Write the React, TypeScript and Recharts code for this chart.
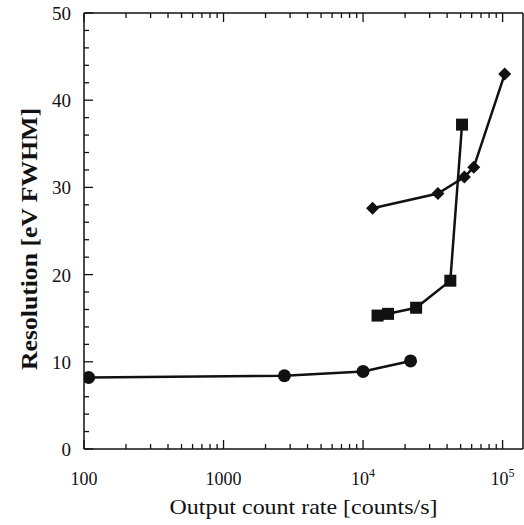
import React from "react";
import { LineChart, Line, XAxis, YAxis } from "recharts";

// x: output count rate [counts/s], y: resolution [eV FWHM]
const circleRate = [108, 2730, 10000, 21900];
const circleRes = [8.2, 8.4, 8.9, 10.1];

const squareRate = [12700, 15100, 24000, 42200, 51200];
const squareRes = [15.3, 15.5, 16.2, 19.3, 37.2];

const diamondRate = [11700, 34400, 53200, 62100, 103500];
const diamondRes = [27.6, 29.3, 31.2, 32.3, 43.0];

const X_TICKS = [
  100, 200, 300, 400, 500, 600, 700, 800, 900,
  1000, 2000, 3000, 4000, 5000, 6000, 7000, 8000, 9000,
  10000, 20000, 30000, 40000, 50000, 60000, 70000, 80000, 90000,
  100000,
];
const X_MAJOR = [100, 1000, 10000, 100000];
const X_LABELS = [["100", ""], ["1000", ""], ["10", "4"], ["10", "5"]];

const Y_TICKS = [0, 2, 4, 6, 8, 10, 12, 14, 16, 18, 20, 22, 24, 26, 28, 30, 32, 34, 36, 38, 40, 42, 44, 46, 48, 50];
const Y_MAJOR = [0, 10, 20, 30, 40, 50];

const toPoints = (xs: number[], ys: number[]) => xs.map((x, i) => ({ x, y: ys[i] }));
const circles = toPoints(circleRate, circleRes);
const squares = toPoints(squareRate, squareRes);
const diamonds = toPoints(diamondRate, diamondRes);

const FONT = "'Liberation Serif', 'Times New Roman', serif";
const INK = "#111";

const BottomTick = ({ x, y, payload }: any) => {
  const idx = X_MAJOR.indexOf(payload.value);
  const major = idx >= 0;
  return (
    <g>
      <line x1={x} x2={x} y1={y} y2={y - (major ? 9 : 5)} stroke={INK} strokeWidth={1.3} />
      {major && (
        <text x={x} y={y + 36} textAnchor="middle" fontFamily={FONT} fontSize={18} fill={INK}>
          {X_LABELS[idx][0]}
          {X_LABELS[idx][1] && (
            <tspan dy={-8} fontSize={12}>
              {X_LABELS[idx][1]}
            </tspan>
          )}
        </text>
      )}
    </g>
  );
};

const TopTick = ({ x, y, payload }: any) => {
  const major = X_MAJOR.includes(payload.value);
  return <line x1={x} x2={x} y1={y} y2={y + (major ? 9 : 5)} stroke={INK} strokeWidth={1.3} />;
};

const LeftTick = ({ x, y, payload }: any) => {
  const major = Y_MAJOR.includes(payload.value);
  return (
    <g>
      <line x1={x} x2={x + (major ? 9 : 5)} y1={y} y2={y} stroke={INK} strokeWidth={1.3} />
      {major && (
        <text x={x - 13} y={y + 7} textAnchor="end" fontFamily={FONT} fontSize={19} fill={INK}>
          {payload.value}
        </text>
      )}
    </g>
  );
};

const RightTick = ({ x, y, payload }: any) => {
  const major = Y_MAJOR.includes(payload.value);
  return <line x1={x} x2={x - (major ? 9 : 5)} y1={y} y2={y} stroke={INK} strokeWidth={1.3} />;
};

const CircleDot = ({ cx, cy, index }: any) => <circle key={index} cx={cx} cy={cy} r={6.5} fill={INK} />;
const SquareDot = ({ cx, cy, index }: any) => (
  <rect key={index} x={cx - 6} y={cy - 6} width={12} height={12} fill={INK} />
);
const DiamondDot = ({ cx, cy, index }: any) => (
  <polygon key={index} points={`${cx},${cy - 6.5} ${cx + 6.5},${cy} ${cx},${cy + 6.5} ${cx - 6.5},${cy}`} fill={INK} />
);

export default function App() {
  const xDomain = [100, 140000];
  return (
    <div style={{ position: "absolute", left: 0, top: 0 }}>
      <LineChart width={524} height={525} margin={{ top: 12, right: 0, bottom: 0, left: 0 }}>
        <XAxis
          xAxisId="b"
          dataKey="x"
          type="number"
          scale="log"
          domain={xDomain}
          allowDataOverflow
          ticks={X_TICKS}
          interval={0}
          height={76}
          tickSize={0}
          tickMargin={0}
          tick={<BottomTick />}
          axisLine={{ stroke: INK, strokeWidth: 1.5 }}
          label={(p: any) => {
            const vb = p.viewBox;
            return (
              <text
                x={vb.x + vb.width / 2}
                y={vb.y + 65}
                textAnchor="middle"
                fontFamily={FONT}
                fontSize={21}
                textLength={268}
                lengthAdjust="spacingAndGlyphs"
                fill={INK}
              >
                Output count rate [counts/s]
              </text>
            );
          }}
        />
        <XAxis
          xAxisId="t"
          orientation="top"
          dataKey="x"
          type="number"
          scale="log"
          domain={xDomain}
          allowDataOverflow
          ticks={X_TICKS}
          interval={0}
          height={1}
          tickSize={0}
          tickMargin={0}
          tick={<TopTick />}
          axisLine={{ stroke: INK, strokeWidth: 1.5 }}
        />
        <YAxis
          yAxisId="l"
          type="number"
          domain={[0, 50]}
          ticks={Y_TICKS}
          interval={0}
          width={84}
          tickSize={0}
          tickMargin={0}
          tick={<LeftTick />}
          axisLine={{ stroke: INK, strokeWidth: 1.5 }}
          label={(p: any) => {
            const vb = p.viewBox;
            const cx = vb.x + 37;
            const cy = vb.y + vb.height / 2 + 8;
            return (
              <text
                x={cx}
                y={cy}
                transform={`rotate(-90 ${cx} ${cy})`}
                textAnchor="middle"
                fontFamily={FONT}
                fontWeight="bold"
                fontSize={23}
                textLength={262}
                lengthAdjust="spacingAndGlyphs"
                fill={INK}
              >
                Resolution [eV FWHM]
              </text>
            );
          }}
        />
        <YAxis
          yAxisId="r"
          orientation="right"
          type="number"
          domain={[0, 50]}
          ticks={Y_TICKS}
          interval={0}
          width={1}
          tickSize={0}
          tickMargin={0}
          tick={<RightTick />}
          axisLine={{ stroke: INK, strokeWidth: 1.5 }}
        />
        <Line
          xAxisId="b"
          yAxisId="l"
          data={circles}
          dataKey="y"
          type="linear"
          stroke={INK}
          strokeWidth={2.5}
          dot={CircleDot}
          isAnimationActive={false}
        />
        <Line
          xAxisId="b"
          yAxisId="l"
          data={squares}
          dataKey="y"
          type="linear"
          stroke={INK}
          strokeWidth={2.5}
          dot={SquareDot}
          isAnimationActive={false}
        />
        <Line
          xAxisId="b"
          yAxisId="l"
          data={diamonds}
          dataKey="y"
          type="linear"
          stroke={INK}
          strokeWidth={2.5}
          dot={DiamondDot}
          isAnimationActive={false}
        />
      </LineChart>
    </div>
  );
}
